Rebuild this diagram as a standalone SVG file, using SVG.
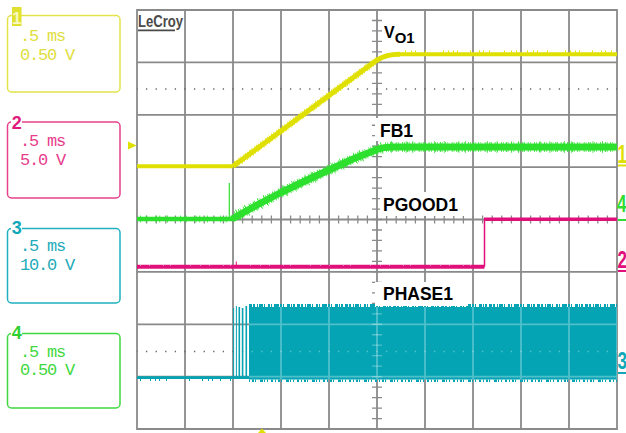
<svg xmlns="http://www.w3.org/2000/svg" width="626" height="433" viewBox="0 0 626 433">
<style>
.lbl{font-family:"Liberation Sans",Arial,sans-serif;font-weight:bold;fill:#000}
.mono{font-family:"Liberation Mono","Courier New",monospace;font-size:17px;letter-spacing:-1.2px}
.tag{font-family:"Liberation Sans",Arial,sans-serif;font-weight:bold}
.box{fill:none;stroke-width:1.5}
</style>
<defs>
<g id="grid" fill="none">
<path stroke-width="1.8" d="M137 10H617V429H137Z M185 10V429M233 10V429M281 10V429M329 10V429M377 10V429M425 10V429M473 10V429M521 10V429M569 10V429M137 62.4H617M137 114.8H617M137 167.1H617M137 219.5H617M137 271.9H617M137 324.3H617M137 376.6H617"/>
<path stroke-width="10" stroke-dasharray="1.3 9.175" stroke-dashoffset="0.65" d="M377 10V429"/>
<path stroke-width="8" stroke-dasharray="1.3 8.3" stroke-dashoffset="0.65" d="M137 219.5H617"/>
</g>
<clipPath id="blk"><rect x="249" y="307" width="368" height="72.5"/></clipPath>
</defs>
<rect width="626" height="433" fill="#fff"/>
<g id="graticule">
<use href="#grid" stroke="#8a8a8a"/>
<path fill="none" stroke="#666" stroke-width="1.3" stroke-dasharray="1.3 8.3" stroke-dashoffset="0.65" d="M137 89H617M137 351.5H617"/>
</g>
<g id="ch1-trace" fill="none" stroke="#e0e000" stroke-linejoin="round">
<path stroke-width="4" d="M137 166.3H233"/>
<path stroke-width="5" d="M233 166.3L377 60Q387 54 400 54.2"/>
<path stroke-width="7" stroke-dasharray="0.8 1.4 0.6 2.4 1 1.6 0.6 3.2 0.8 1.2" d="M236 164L377 60"/>
<path stroke-width="4" d="M398 54.2H617"/>
<path stroke-width="2" stroke-dasharray="1 5 1 3 1 9 1 17 1 4 1 4 1 3 1 12 1 8 1 3 1 5 1 14 1 6 1 4 1 10" d="M405 51.5H617"/>
</g>
<g id="ch4-trace" fill="none" stroke="#2ee02e" stroke-linejoin="round">
<path stroke-width="4.5" d="M137 219H233"/>
<path stroke-width="7" stroke-dasharray="0.8 5 0.8 9 0.8 3 0.8 7 0.8 12" d="M140 219H230"/>
<path stroke-width="1.2" d="M229.3 219V183"/>
<path stroke-width="7" d="M232 219L257 205L281 192.5L305 181L329 170L353 159L377 149.5Q384 147 392 147H617"/>
<path stroke-width="10" stroke-dasharray="0.8 1.2 0.6 2 1 0.9 0.7 2.8 0.8 1.5 0.6 3.6" d="M236 216L257 205L281 192.5L305 181L329 170L353 159L377 149.5Q384 147 392 147H617"/>
<path stroke-width="12" stroke-dasharray="0.7 9 0.7 14 0.7 6 0.7 21" d="M238 215L257 205L281 192.5L305 181L329 170L353 159L377 149.5Q384 147 392 147H617"/>
</g>
<g id="ch2-trace" fill="none" stroke="#e0107a">
<path stroke-width="4" d="M137 266.7H484.5"/>
<path stroke-width="1.5" d="M484.5 266.7V219.3"/>
<path stroke-width="3.5" d="M484 219.3H617"/>
<path stroke-width="1" d="M236.3 266V261.5"/>
<path stroke="#fff" stroke-opacity=".5" stroke-width="1" stroke-dasharray="1 8 1 13 1 6 1 19 1 9" d="M140 265.5H484"/>
</g>
<g id="ch3-trace" fill="none" stroke="#05a4b4">
<path stroke-width="2.6" d="M137 377.6H250"/>
<path stroke-width="2" stroke-dasharray="1 9 1 4 1 3 1 6 1 22 1 12 1 5 1 3 1 7" d="M140 380H233"/>
<path stroke-width="1" d="M233.6 308V377M236.4 306V377"/>
<path stroke-width="1.6" d="M239.3 307V377M242.6 308V377M246.3 306V377"/>
<rect fill="#05a4b4" stroke="none" x="249" y="307" width="368" height="72.5"/>
<path stroke-width="3" stroke-dasharray="3 1 2 2 1 1 4 1 1 3 2 1 1 2 5 1 2 1 1 3 3 1 1 1 2 2" d="M249 305.5H617"/>
<path stroke-width="2.5" stroke-dasharray="1 2 2 1 1 4 3 1 1 2 1 3 2 2" d="M249 380.8H617"/>
</g>
<g id="ch3-overlay">
<use href="#grid" stroke="#fff" stroke-opacity=".3" clip-path="url(#blk)"/>
<path fill="none" stroke="#fff" stroke-opacity=".35" stroke-width="1.3" stroke-dasharray="1.3 8.3" stroke-dashoffset="0.65" d="M137 351.5H617" clip-path="url(#blk)"/>
</g>
<g id="label-vo1"><text class="lbl" x="384" y="38" font-size="16">V<tspan dy="5" font-size="15">O1</tspan></text></g>
<g id="label-fb1"><rect x="375" y="118" width="43" height="23" fill="#fff"/><text class="lbl" x="380" y="137" font-size="17.5">FB1</text></g>
<g id="label-pgood1"><rect x="380" y="192" width="86" height="24" fill="#fff"/><text class="lbl" x="383" y="211" font-size="17.5">PGOOD1</text></g>
<g id="label-phase1"><rect x="375" y="282" width="93" height="24" fill="#fff"/><text class="lbl" x="383" y="300" font-size="17.5">PHASE1</text></g>
<g id="logo"><text x="138" y="27" font-family="Liberation Sans, Arial, sans-serif" font-weight="bold" font-size="16" fill="#4a4a4a" textLength="45" lengthAdjust="spacingAndGlyphs">LeCroy</text><path d="M138 30.3H175" stroke="#4a4a4a" stroke-width="1.8"/></g>
<g id="markers">
<polygon points="128,141.5 136.5,145.5 128,149.5" fill="#e0e000"/>
<polygon points="258,433 262,428.5 266,433" fill="#e0e000"/>
<text class="tag" font-size="20" fill="#e0e000" transform="translate(617.5,163) scale(0.85,1.3)">1</text>
<path d="M618 165.5H626" stroke="#e0e000" stroke-width="2"/>
<text class="tag" font-size="20" fill="#30dd30" transform="translate(617,212) scale(0.85,1.2)">4</text>
<path d="M618 220H626" stroke="#30dd30" stroke-width="2"/>
<text class="tag" font-size="20" fill="#e0107a" transform="translate(617.5,268) scale(0.85,1.2)">2</text>
<path d="M618 271H626" stroke="#e0107a" stroke-width="2"/>
<text class="tag" font-size="20" fill="#10a8b8" transform="translate(617.5,369) scale(0.85,1.2)">3</text>
<path d="M618 373H626" stroke="#10a8b8" stroke-width="2"/>
</g>
<g id="ch1-box">
<rect class="box" x="7.5" y="15.5" width="112.5" height="76.5" rx="4" stroke="#e2e24a"/>
<rect x="12" y="7" width="9.5" height="19" fill="#e0e030"/>
<text class="tag" x="16.7" y="23.5" font-size="17" fill="#f8f8c0" text-anchor="middle">1</text>
<text class="mono" x="20" y="41" fill="#dede40">.5 ms</text>
<text class="mono" x="20" y="60" fill="#dede40">0.50 V</text>
</g>
<g id="ch2-box">
<rect class="box" x="7.5" y="122" width="112.5" height="76" rx="4" stroke="#e8408a"/>
<rect x="11" y="113" width="11" height="16" fill="#fff"/>
<text class="tag" x="16.7" y="128.5" font-size="18" fill="#e01a7c" text-anchor="middle">2</text>
<text class="mono" x="20" y="146" fill="#e63c8c">.5 ms</text>
<text class="mono" x="20" y="165" fill="#e63c8c">5.0 V</text>
</g>
<g id="ch3-box">
<rect class="box" x="7.5" y="228.5" width="112.5" height="74.5" rx="4" stroke="#20b0c0"/>
<rect x="11" y="219" width="11" height="16" fill="#fff"/>
<text class="tag" x="16.7" y="233.5" font-size="18" fill="#10a8b8" text-anchor="middle">3</text>
<text class="mono" x="20" y="251" fill="#22aab8">.5 ms</text>
<text class="mono" x="20" y="270" fill="#22aab8">10.0 V</text>
</g>
<g id="ch4-box">
<rect class="box" x="7.5" y="333.5" width="112.5" height="74.5" rx="4" stroke="#40d840"/>
<rect x="11" y="324" width="11" height="16" fill="#fff"/>
<text class="tag" x="16.7" y="338.5" font-size="18" fill="#30d030" text-anchor="middle">4</text>
<text class="mono" x="20" y="357" fill="#40d840">.5 ms</text>
<text class="mono" x="20" y="375" fill="#40d840">0.50 V</text>
</g>
</svg>
